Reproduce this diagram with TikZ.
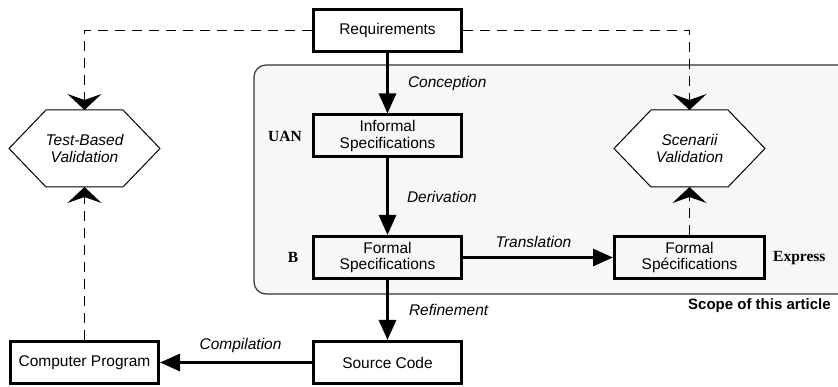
\documentclass[tikz,border=0pt]{standalone}
\usepackage{fontspec}
\setmainfont{Liberation Sans}
\newfontfamily\timesbf{Liberation Serif}[BoldFont={Liberation Serif Bold}]
\usetikzlibrary{arrows.meta}
\tikzset{
  box/.style={draw, line width=3pt, minimum width=148pt, minimum height=42pt,
    inner sep=0pt, align=center, font=\fontsize{15.5}{16.5}\selectfont},
  hexbox/.style={draw=none, minimum width=151pt, minimum height=77pt,
    inner sep=0pt, outer sep=0pt, align=center,
    font=\fontsize{15.5}{17}\selectfont\itshape},
  hexline/.style={line width=1pt, fill=white},
  flow/.style={line width=3pt, -{Triangle[length=20pt, width=17pt]}},
  check/.style={line width=1.3pt, dash pattern=on 10pt off 7pt,
    -{Stealth[length=16pt, width=34pt, inset=6pt, sep=0pt]}},
  lbl/.style={font=\fontsize{15.5}{17}\selectfont\itshape, inner sep=0pt},
  lang/.style={font=\fontsize{15.5}{17}\selectfont\timesbf\bfseries, inner sep=0pt},
}
\begin{document}
\begin{tikzpicture}[x=1pt, y=-1pt]
\clip (0,0) rectangle (838,387);
\fill[white] (0,0) rectangle (838,387);

% scope of the formal part
\draw[line width=1.2pt, draw=black!80, fill=black!3, rounded corners=12pt]
  (254,65) rectangle (870,294);
\node[anchor=west, inner sep=0pt, font=\fontsize{15}{17}\selectfont\bfseries]
  (scope) at (688,306) {Scope of this article};

% boxes
\node[box] (req)  at (387.5,30.5)  {Requirements};
\node[box] (inf)  at (387.5,136)   {Informal\\Specifications};
\node[box] (fsb)  at (387.5,257.5) {Formal\\Specifications};
\node[box] (src)  at (387.5,362.5) {Source Code};
\node[box] (prog) at (84.5,362.5)  {Computer Program};
\node[box, minimum width=150pt] (fse) at (689.5,257.5) {Formal\\Spécifications};

% validation hexagons
\node[hexbox] (tbv) at (84.5,148.5) {};
\draw[hexline] ([xshift=37pt]tbv.north west) -- ([xshift=-37pt]tbv.north east)
  -- (tbv.east) -- ([xshift=-37pt]tbv.south east)
  -- ([xshift=37pt]tbv.south west) -- (tbv.west) -- cycle;
\node[hexbox] at (tbv.center) {Test-Based\\Validation};

\node[hexbox] (scen) at (689.5,148.5) {};
\draw[hexline] ([xshift=37pt]scen.north west) -- ([xshift=-37pt]scen.north east)
  -- (scen.east) -- ([xshift=-37pt]scen.south east)
  -- ([xshift=37pt]scen.south west) -- (scen.west) -- cycle;
\node[hexbox] at (scen.center) {Scenarii\\Validation};

% notation labels
\node[lang] (uan) at (285,136) {UAN};
\node[lang] (bl)  at (293,257) {B};
\node[lang, anchor=west] (expr) at (773,258) {Express};

% development flow
\draw[flow] (req) -- (inf) node[lbl, pos=0.5, anchor=west, xshift=19pt] {Conception};
\draw[flow] (inf) -- (fsb) node[lbl, pos=0.5, anchor=west, xshift=18pt] {Derivation};
\draw[flow] (fsb) -- (src) node[lbl, pos=0.5, anchor=west, xshift=20pt] {Refinement};
\draw[flow] (fsb) -- (fse) node[lbl, pos=0.47, anchor=south, yshift=8pt] {Translation};
\draw[flow] (src) -- (prog) node[lbl, pos=0.47, anchor=south, yshift=8pt] {Compilation};

% validation links
\draw[check] (req.west) -| (tbv.north);
\draw[check] (req.east) -| (scen.north);
\draw[check] (prog.north) -- (tbv.south);
\draw[check] (fse.north) -- (scen.south);
\end{tikzpicture}
\end{document}
